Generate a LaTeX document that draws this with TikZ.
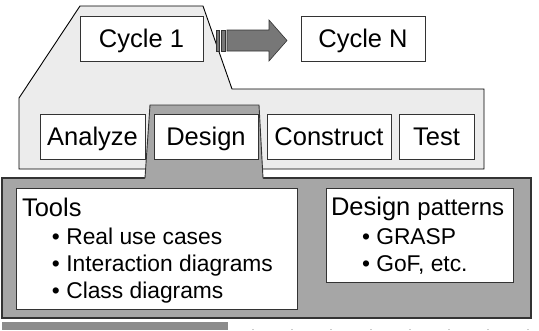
\documentclass[tikz,border=0pt]{standalone}
\usepackage{fontspec}
\setmainfont{Liberation Sans}
\begin{document}
\begin{tikzpicture}[x=1pt,y=-1pt,line cap=rect,
  phasebox/.style={draw=custcol_33_33_33, fill=white, line width=0.9pt, inner sep=0, outer sep=0,
    minimum height=45pt, text height=24pt, text depth=5.6pt, font=\fontsize{25.5pt}{25.5pt}\selectfont},
  listbox/.style={draw=custcol_33_33_33, fill=white, line width=0.9pt, inner sep=0, outer sep=0, anchor=north west},
  txt/.style={inner sep=0, outer sep=0, anchor=base west},
  itemfont/.style={font=\fontsize{22.8pt}{22.8pt}\selectfont}]
\definecolor{custcol_33_33_33}{RGB}{51, 51, 51}
\definecolor{custcol_ec_ec_ec}{RGB}{236, 236, 236}
\definecolor{custcol_a6_a6_a6}{RGB}{166, 166, 166}
\definecolor{custcol_77_77_77}{RGB}{119, 119, 119}
\definecolor{custcol_8c_8c_8c}{RGB}{140, 140, 140}
\useasboundingbox (0,0) rectangle (539,330);
% dark panel with the design work
\draw [line width=1.2pt, custcol_33_33_33, fill=custcol_a6_a6_a6]  (2.0,178.0) rectangle (531.0,318.0) ;
% light panel of one cycle
\draw [line width=0.9pt, black, fill=custcol_ec_ec_ec]  (80.0,6.0) -- (203.0,6.0) -- (232.0,89.0) -- (484.0,89.0) -- (484.0,169.0) -- (19.0,169.0) -- (19.0,98.0) -- cycle ;
% tab joining Design to the dark panel
\fill [custcol_a6_a6_a6]  (150.0,105.0) -- (259.0,105.0) -- (263.2,179.0) -- (144.8,179.0) -- cycle ;
\draw [line width=0.9pt, custcol_33_33_33 ]  (145.0,178.0) -- (150.0,105.0) -- (259.0,105.0) -- (263.0,178.0) ;
% block arrow
\draw [line width=0.6pt, custcol_33_33_33, fill=custcol_77_77_77]  (216.0,30.0) rectangle (219.5,51.0) ;
\draw [line width=0.6pt, custcol_33_33_33, fill=custcol_77_77_77]  (221.5,30.0) rectangle (225.0,51.0) ;
\draw [line width=0.6pt, custcol_33_33_33, fill=custcol_77_77_77, line join=miter]  (227.0,30.0) -- (269.0,30.0) -- (269.0,20.0) -- (287.0,40.5) -- (269.0,61.0) -- (269.0,51.0) -- (227.0,51.0) -- cycle ;
% cycles and phases
\node[phasebox, minimum width=123pt] (cycone) at (141.5,38.5) {Cycle 1};
\node[phasebox, minimum width=124pt] (cycn) at (363.0,38.5) {Cycle N};
\node[phasebox, minimum width=105pt] (analyze) at (92.5,136.5) {Analyze};
\node[phasebox, minimum width=104pt] (design) at (206.0,136.5) {Design};
\node[phasebox, minimum width=124pt] (construct) at (329.0,136.5) {Construct};
\node[phasebox, minimum width=75pt] (test) at (436.5,136.5) {Test};
% tools list
\node[listbox, minimum width=281pt, minimum height=121pt] (tools) at (16.0,188.0) {};
\node[txt, font=\fontsize{25.5pt}{25.5pt}\selectfont] (toolshead) at (22.0,216.0) {Tools};
\node[txt, itemfont] (toolsa) at (52.0,244.0) {• Real use cases};
\node[txt, itemfont] (toolsb) at (52.0,271.5) {• Interaction diagrams};
\node[txt, itemfont] (toolsc) at (52.0,298.5) {• Class diagrams};
% patterns list
\node[listbox, minimum width=187pt, minimum height=94pt] (patterns) at (326.0,188.0) {};
\node[txt] (patternshead) at (331.0,215.0) {\fontsize{25.5pt}{25.5pt}\selectfont Design \fontsize{24pt}{24pt}\selectfont patterns};
\node[txt, itemfont] (patternsa) at (362.0,244.0) {• GRASP};
\node[txt, itemfont] (patternsb) at (362.0,271.5) {• GoF, etc.};
% strip along the bottom edge
\fill [custcol_8c_8c_8c]  (2.0,321.5) rectangle (228.0,330.0) ;
\foreach \k in {0,...,7}
  \fill [gray!40]  (251.6+39.3*\k,328.5) rectangle +(2.0,1.5) ;
\end{tikzpicture}
\end{document}
